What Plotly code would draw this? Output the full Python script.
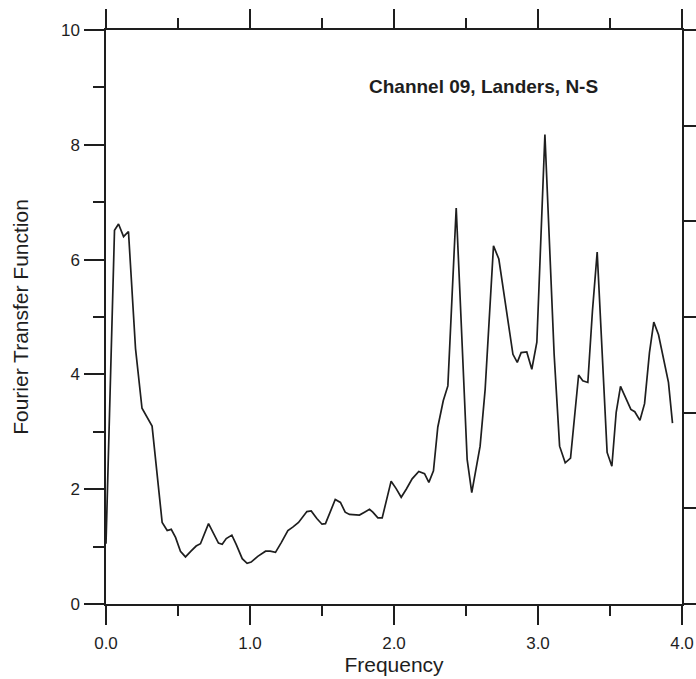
import plotly.graph_objects as go

# Fourier transfer function, Channel 09 (Landers earthquake, N-S component)
frequency = [
    0.000, 0.059, 0.087, 0.122, 0.156, 0.205, 0.250, 0.290, 0.320, 0.390,
    0.425, 0.453, 0.483, 0.517, 0.552, 0.590, 0.626, 0.656, 0.712, 0.781,
    0.807, 0.835, 0.874, 0.904, 0.946, 0.980, 1.008, 1.054, 1.108, 1.140,
    1.177, 1.217, 1.263, 1.297, 1.337, 1.395, 1.425, 1.464, 1.500, 1.524,
    1.592, 1.628, 1.661, 1.691, 1.726, 1.760, 1.795, 1.830, 1.853, 1.888,
    1.918, 1.980, 2.015, 2.050, 2.085, 2.126, 2.172, 2.212, 2.242, 2.274,
    2.304, 2.342, 2.374, 2.432, 2.508, 2.540, 2.598, 2.633, 2.691, 2.728,
    2.826, 2.856, 2.883, 2.922, 2.957, 2.992, 3.048, 3.112, 3.150, 3.189,
    3.226, 3.282, 3.311, 3.346, 3.378, 3.411, 3.480, 3.513, 3.543, 3.573,
    3.645, 3.672, 3.708, 3.740, 3.774, 3.804, 3.837, 3.906, 3.934,
]
transfer = [
    1.05, 6.51, 6.62, 6.40, 6.49, 4.45, 3.41, 3.22, 3.10, 1.42,
    1.28, 1.30, 1.16, 0.92, 0.82, 0.92, 1.01, 1.05, 1.40, 1.06,
    1.04, 1.14, 1.20, 1.04, 0.79, 0.71, 0.73, 0.83, 0.92, 0.92,
    0.90, 1.07, 1.28, 1.34, 1.42, 1.61, 1.62, 1.49, 1.39, 1.40,
    1.82, 1.77, 1.60, 1.56, 1.56, 1.55, 1.60, 1.65, 1.60, 1.50,
    1.50, 2.14, 2.01, 1.86, 2.00, 2.18, 2.31, 2.27, 2.12, 2.32,
    3.08, 3.54, 3.80, 6.90, 2.52, 1.94, 2.75, 3.74, 6.24, 6.01,
    4.35, 4.21, 4.38, 4.39, 4.09, 4.56, 8.18, 4.35, 2.75, 2.46,
    2.54, 3.99, 3.89, 3.86, 5.10, 6.13, 2.64, 2.40, 3.34, 3.79,
    3.39, 3.35, 3.20, 3.49, 4.38, 4.91, 4.69, 3.86, 3.15,
]

x_ticks = [0, 1, 2, 3, 4]
x_tick_labels = ["0.0", "1.0", "2.0", "3.0", "4.0"]
y_ticks = [0, 2, 4, 6, 8, 10]
right_ticks = [0, 1, 2, 3, 4, 5, 6]

ink = "#1e1e1e"
font_family = "Arial, 'Liberation Sans', sans-serif"

fig = go.Figure()
fig.add_trace(go.Scatter(
    x=frequency, y=transfer, mode="lines",
    line=dict(color=ink, width=1.7),
    hoverinfo="skip",
))
# empty trace that carries the unlabeled right-hand scale
fig.add_trace(go.Scatter(x=[], y=[], yaxis="y2", hoverinfo="skip"))

axis_common = dict(
    showline=True, linecolor=ink, linewidth=1.5,
    ticks="outside", tickcolor=ink, tickwidth=1.5,
    showgrid=False, zeroline=False, automargin=False,
)

fig.update_layout(
    width=696, height=679,
    margin=dict(l=106, r=14, t=30, b=75, autoexpand=False),
    paper_bgcolor="white", plot_bgcolor="white",
    showlegend=False,
    font=dict(family=font_family, color=ink, size=17),
    xaxis=dict(
        **axis_common,
        range=[0, 4], tickvals=x_ticks, ticktext=x_tick_labels,
        ticklen=19, mirror="ticks",
        minor=dict(dtick=0.5, tick0=0, ticks="outside", ticklen=10,
                   tickwidth=1.5, tickcolor=ink, showgrid=False),
        ticklabelstandoff=4,
        title=dict(text="Frequency", font=dict(size=21), standoff=5),
    ),
    yaxis=dict(
        **axis_common,
        range=[0, 10], tickvals=y_ticks,
        ticklen=20,
        minor=dict(dtick=1, tick0=0, ticks="outside", ticklen=11,
                   tickwidth=1.5, tickcolor=ink, showgrid=False),
        ticklabelstandoff=1,
        title=dict(text="Fourier Transfer Function", font=dict(size=21), standoff=27),
    ),
    yaxis2=dict(
        **axis_common,
        overlaying="y", side="right", anchor="x",
        range=[0, 6], tickvals=right_ticks, ticklen=16,
        showticklabels=False,
    ),
    annotations=[dict(
        x=1.815, y=9.02, xref="x", yref="y",
        xanchor="left", yanchor="middle", showarrow=False,
        text="<b>Channel 09, Landers, N-S</b>",
        font=dict(size=19, family=font_family, color=ink),
    )],
)

fig.write_html("out.html")
